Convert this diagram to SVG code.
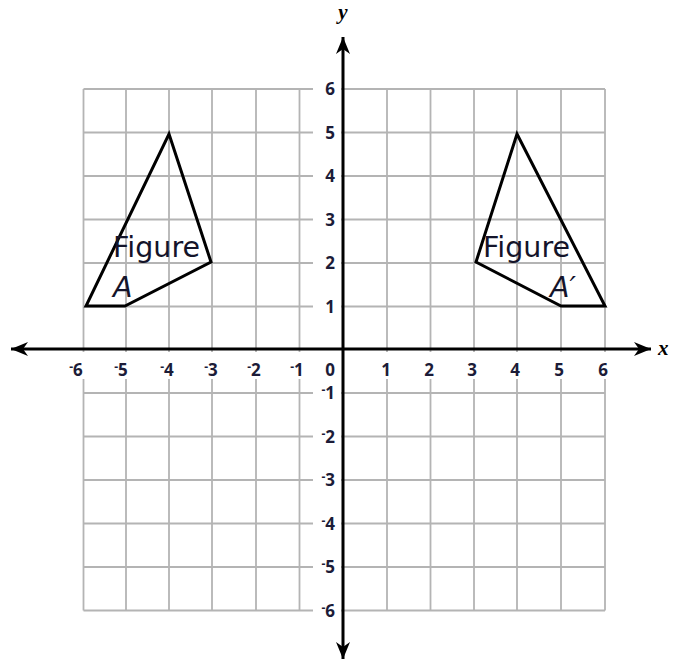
<svg xmlns="http://www.w3.org/2000/svg" width="676" height="660" viewBox="0 0 676 660">
<defs>
<style>
.grid line{stroke:#b4b4b4;stroke-width:1.8}
.axis{stroke:#000;stroke-width:3;fill:none}
.t{font-family:"Open Sans","Noto Sans",sans-serif;font-weight:700;font-size:17px;fill:#1c1c38}
.tx{text-anchor:middle}
.ty{text-anchor:end}
.neg{font-size:12px;baseline-shift:40%}
.lab{font-family:"Liberation Serif",serif;font-style:italic;font-weight:bold;font-size:21px;fill:#000}
.fig{fill:none;stroke:#000;stroke-width:3;stroke-linejoin:miter}
.ft{font-family:"DejaVu Sans","Open Sans",sans-serif;font-size:28.5px;fill:#14142a}
.fi{font-style:italic}
</style>
<marker id="ah" viewBox="-18 -8 20 16" refX="0" refY="0" markerWidth="20" markerHeight="16" markerUnits="userSpaceOnUse" orient="auto-start-reverse">
<path d="M0,0 L-17,-7 L-12,0 L-17,7 Z" fill="#000"/>
</marker>
</defs>
<rect width="676" height="660" fill="#fff"/>
<g id="grid" class="grid">
<line x1="83.5" y1="89" x2="83.5" y2="610.5"/>
<line x1="126" y1="89" x2="126" y2="610.5"/>
<line x1="169" y1="89" x2="169" y2="610.5"/>
<line x1="212" y1="89" x2="212" y2="610.5"/>
<line x1="256" y1="89" x2="256" y2="610.5"/>
<line x1="299.5" y1="89" x2="299.5" y2="610.5"/>
<line x1="387" y1="89" x2="387" y2="610.5"/>
<line x1="430.5" y1="89" x2="430.5" y2="610.5"/>
<line x1="474" y1="89" x2="474" y2="610.5"/>
<line x1="517" y1="89" x2="517" y2="610.5"/>
<line x1="561" y1="89" x2="561" y2="610.5"/>
<line x1="605" y1="89" x2="605" y2="610.5"/>
<line x1="83.5" y1="89" x2="605" y2="89"/>
<line x1="83.5" y1="132.5" x2="605" y2="132.5"/>
<line x1="83.5" y1="176" x2="605" y2="176"/>
<line x1="83.5" y1="219.5" x2="605" y2="219.5"/>
<line x1="83.5" y1="263" x2="605" y2="263"/>
<line x1="83.5" y1="306.5" x2="605" y2="306.5"/>
<line x1="83.5" y1="393" x2="605" y2="393"/>
<line x1="83.5" y1="436.5" x2="605" y2="436.5"/>
<line x1="83.5" y1="480" x2="605" y2="480"/>
<line x1="83.5" y1="523.5" x2="605" y2="523.5"/>
<line x1="83.5" y1="567" x2="605" y2="567"/>
<line x1="83.5" y1="610.5" x2="605" y2="610.5"/>
</g>
<g id="label-bg" fill="#fff">
<rect x="60" y="352" width="560" height="27"/>
<rect x="313" y="80" width="28" height="540"/>
</g>
<g id="connectors">
<line class="axis" x1="11" y1="349" x2="651" y2="349" marker-start="url(#ah)" marker-end="url(#ah)"/>
<line class="axis" x1="343" y1="37" x2="343" y2="659" marker-start="url(#ah)" marker-end="url(#ah)"/>
</g>
<g id="x-labels" class="t tx">
<text x="76" y="376"><tspan class="neg">-</tspan>6</text>
<text x="121" y="376"><tspan class="neg">-</tspan>5</text>
<text x="167" y="376"><tspan class="neg">-</tspan>4</text>
<text x="211" y="376"><tspan class="neg">-</tspan>3</text>
<text x="254" y="376"><tspan class="neg">-</tspan>2</text>
<text x="297" y="376"><tspan class="neg">-</tspan>1</text>
<text x="330" y="376">0</text>
<text x="386" y="376">1</text>
<text x="429" y="376">2</text>
<text x="472" y="376">3</text>
<text x="515" y="376">4</text>
<text x="559" y="376">5</text>
<text x="603" y="376">6</text>
</g>
<g id="y-labels" class="t ty">
<text x="335" y="95">6</text>
<text x="335" y="138.5">5</text>
<text x="335" y="182">4</text>
<text x="335" y="225.5">3</text>
<text x="335" y="269">2</text>
<text x="335" y="312.5">1</text>
<text x="335" y="399"><tspan class="neg">-</tspan>1</text>
<text x="335" y="442.5"><tspan class="neg">-</tspan>2</text>
<text x="335" y="486"><tspan class="neg">-</tspan>3</text>
<text x="335" y="529.5"><tspan class="neg">-</tspan>4</text>
<text x="335" y="573"><tspan class="neg">-</tspan>5</text>
<text x="335" y="616.5"><tspan class="neg">-</tspan>6</text>
</g>
<g id="axis-names">
<text class="lab" x="343" y="19" text-anchor="middle">y</text>
<text class="lab" x="658" y="355">x</text>
</g>
<g id="figureA">
<polygon class="fig" points="169,134 211,262 125,306 86,306"/>
<text class="ft" x="113" y="257">Figure</text>
<text class="ft fi" x="113" y="297">A</text>
</g>
<g id="figureA-prime">
<polygon class="fig" points="517,134 605,306 561,306 476,262"/>
<text class="ft" x="483" y="257">Figure</text>
<text class="ft fi" x="550" y="297">A′</text>
</g>
</svg>
